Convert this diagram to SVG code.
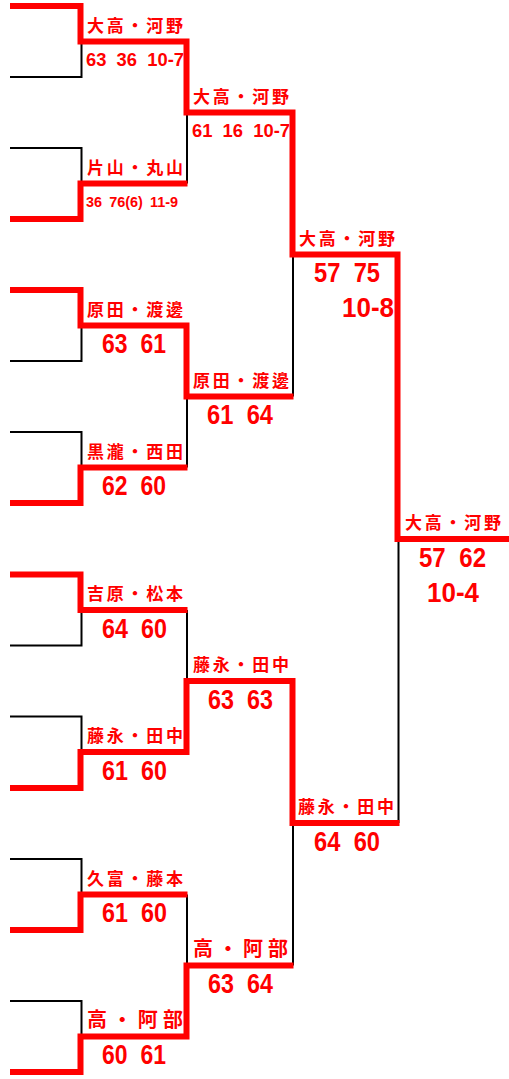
<svg xmlns="http://www.w3.org/2000/svg" width="509" height="1079" viewBox="0 0 509 1079">
<style>
.bk{fill:none;stroke:#000;stroke-width:2}
.rd{fill:none;stroke:#f00;stroke-width:6;stroke-linejoin:miter}
.nm{font-family:"Liberation Sans","Noto Sans CJK JP",sans-serif;font-weight:bold;font-size:17px;fill:#f00}
.nm2{font-size:20px}
.sc{font-family:"Liberation Sans",Arial,sans-serif;font-weight:bold;font-size:28px;fill:#f00;word-spacing:8px}
.ss{font-size:18px;word-spacing:5px}
.sx{font-size:14px;word-spacing:3px}
</style>
<rect width="509" height="1079" fill="#fff"/>
<g id="connectors">
<path class="bk" d="M10 77H81.5V41.5"/>
<path class="bk" d="M10 148H81.5V183.5"/>
<path class="bk" d="M10 361H81.5V325.5"/>
<path class="bk" d="M10 432H81.5V467.5"/>
<path class="bk" d="M10 645.5H81.5V610"/>
<path class="bk" d="M10 716.5H81.5V752"/>
<path class="bk" d="M10 859H81.5V894.5"/>
<path class="bk" d="M10 1001H81.5V1036.5"/>
<path class="bk" d="M187 183.5V112.5"/>
<path class="bk" d="M187 467.5V396.5"/>
<path class="bk" d="M187 610V681"/>
<path class="bk" d="M187 894.5V965.5"/>
<path class="bk" d="M293 396.5V254.5"/>
<path class="bk" d="M293 965.5V823"/>
<path class="bk" d="M398.5 823V539"/>
<path class="rd" d="M10 6H80.5V41.5H186.5V112.5H292.5V254.5H397.5V539H509"/>
<path class="rd" d="M10 219H80.5V183.5H187.5"/>
<path class="rd" d="M10 290H80.5V325.5H186.5V396.5H293.5"/>
<path class="rd" d="M10 503H80.5V467.5H187.5"/>
<path class="rd" d="M10 574.5H80.5V610H187.5"/>
<path class="rd" d="M10 788H80.5V752H186.5V681H292.5V823H399.5"/>
<path class="rd" d="M10 930H80.5V894.5H187.5"/>
<path class="rd" d="M10 1072H80.5V1036.5H186.5V965.5H293.5"/>
</g>
<g id="r1m1"><text class="nm" x="87" y="31.5" textLength="96" lengthAdjust="spacing">大高・河野</text><text class="sc ss" x="86" y="66" textLength="98" lengthAdjust="spacingAndGlyphs">63 36 10-7</text></g>
<g id="r1m2"><text class="nm" x="87" y="173.5" textLength="96" lengthAdjust="spacing">片山・丸山</text><text class="sc sx" x="86" y="207" textLength="92" lengthAdjust="spacingAndGlyphs">36 76(6) 11-9</text></g>
<g id="r1m3"><text class="nm" x="87" y="315.5" textLength="96" lengthAdjust="spacing">原田・渡邊</text><text class="sc" x="102" y="353" textLength="64" lengthAdjust="spacingAndGlyphs">63 61</text></g>
<g id="r1m4"><text class="nm" x="87" y="457.5" textLength="96" lengthAdjust="spacing">黒瀧・西田</text><text class="sc" x="102" y="495" textLength="64" lengthAdjust="spacingAndGlyphs">62 60</text></g>
<g id="r1m5"><text class="nm" x="87" y="600" textLength="96" lengthAdjust="spacing">吉原・松本</text><text class="sc" x="102" y="637.5" textLength="65" lengthAdjust="spacingAndGlyphs">64 60</text></g>
<g id="r1m6"><text class="nm" x="87" y="742" textLength="96" lengthAdjust="spacing">藤永・田中</text><text class="sc" x="102" y="779.5" textLength="65" lengthAdjust="spacingAndGlyphs">61 60</text></g>
<g id="r1m7"><text class="nm" x="87" y="884.5" textLength="96" lengthAdjust="spacing">久富・藤本</text><text class="sc" x="102" y="922" textLength="65" lengthAdjust="spacingAndGlyphs">61 60</text></g>
<g id="r1m8"><text class="nm nm2" x="87" y="1026.5" textLength="96" lengthAdjust="spacing">高・阿部</text><text class="sc" x="102" y="1064" textLength="64" lengthAdjust="spacingAndGlyphs">60 61</text></g>
<g id="r2m1"><text class="nm" x="193" y="102.5" textLength="96" lengthAdjust="spacing">大高・河野</text><text class="sc ss" x="192" y="137" textLength="98" lengthAdjust="spacingAndGlyphs">61 16 10-7</text></g>
<g id="r2m2"><text class="nm" x="193" y="386.5" textLength="96" lengthAdjust="spacing">原田・渡邊</text><text class="sc" x="207" y="424" textLength="66" lengthAdjust="spacingAndGlyphs">61 64</text></g>
<g id="r2m3"><text class="nm" x="193" y="671" textLength="96" lengthAdjust="spacing">藤永・田中</text><text class="sc" x="208" y="708.5" textLength="65" lengthAdjust="spacingAndGlyphs">63 63</text></g>
<g id="r2m4"><text class="nm nm2" x="193" y="955.5" textLength="95" lengthAdjust="spacing">高・阿部</text><text class="sc" x="208" y="993" textLength="65" lengthAdjust="spacingAndGlyphs">63 64</text></g>
<g id="r3m1"><text class="nm" x="299" y="244.5" textLength="96" lengthAdjust="spacing">大高・河野</text><text class="sc" x="314" y="282" textLength="66" lengthAdjust="spacingAndGlyphs">57 75</text><text class="sc" x="342" y="317" textLength="52" lengthAdjust="spacingAndGlyphs">10-8</text></g>
<g id="r3m2"><text class="nm" x="298" y="813" textLength="96" lengthAdjust="spacing">藤永・田中</text><text class="sc" x="314" y="850.5" textLength="66" lengthAdjust="spacingAndGlyphs">64 60</text></g>
<g id="final"><text class="nm" x="405" y="529" textLength="96" lengthAdjust="spacing">大高・河野</text><text class="sc" x="419" y="567" textLength="67" lengthAdjust="spacingAndGlyphs">57 62</text><text class="sc" x="427" y="602" textLength="52" lengthAdjust="spacingAndGlyphs">10-4</text></g>
</svg>
